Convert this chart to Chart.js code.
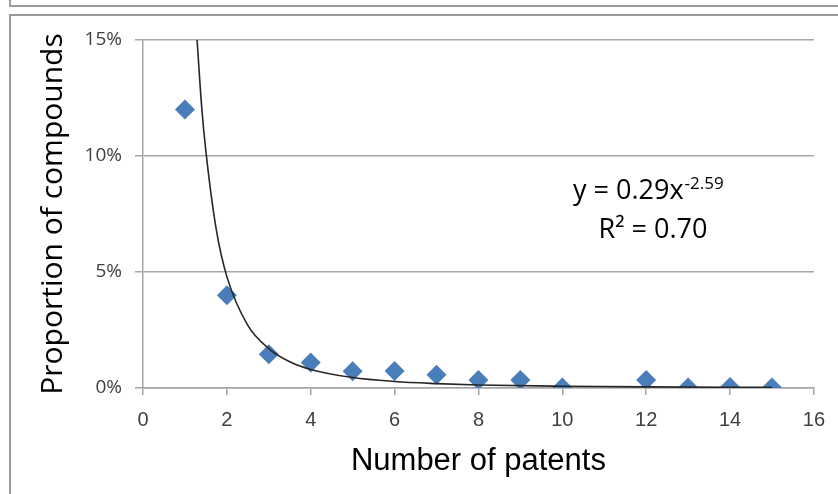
<!DOCTYPE html>
<html>
<head>
<meta charset="utf-8">
<title>Proportion of compounds by number of patents</title>
<script src="https://cdn.jsdelivr.net/npm/chart.js@4.4.1/dist/chart.umd.min.js"></script>
<style>
  html, body { margin: 0; padding: 0; background: #fff; }
  #chart { display: block; }
</style>
</head>
<body>
<canvas id="chart" width="838" height="494"></canvas>
<script>
"use strict";

// number of patents per compound (x) and share of compounds in % (y)
const patents = [1, 2, 3, 4, 5, 6, 7, 8, 9, 10, 12, 13, 14, 15];
const proportion = [12.0, 4.0, 1.45, 1.1, 0.72, 0.73, 0.57, 0.34, 0.34, 0.02, 0.34, 0.02, 0.04, 0.02];

// power trendline (y = 0.29x^-2.59)
const trendX = [1.29, 1.4, 1.5, 1.75, 2, 2.5, 3, 3.5, 4, 5, 6, 7, 8, 10, 12, 15];
const trendY = [15.0, 12.1, 10.2, 6.8, 4.8, 2.7, 1.7, 1.13, 0.8, 0.45, 0.28, 0.19, 0.13, 0.075, 0.047, 0.026];

const equationText = "y = 0.29x";
const exponentText = "-2.59";
const rSquaredText = "R\u00B2 = 0.70";

const xTitle = "Number of patents";
const yTitle = "Proportion of compounds";

const gridGray = "#a6a6a6";

/**
 * Gray panel borders behind the chart.
 */
const framePlugin = {
  id: "frame",
  beforeDraw(chart) {
    const ctx = chart.ctx;
    ctx.save();
    ctx.fillStyle = "#fff";
    ctx.fillRect(0, 0, chart.width, chart.height);
    ctx.strokeStyle = "#9a9a9a";
    ctx.lineWidth = 2;
    ctx.beginPath();
    ctx.moveTo(10, 0);
    ctx.lineTo(10, 6);
    ctx.lineTo(chart.width, 6);
    ctx.moveTo(chart.width, 15);
    ctx.lineTo(10, 15);
    ctx.lineTo(10, chart.height);
    ctx.stroke();
    ctx.restore();
  }
};

/**
 * Trendline equation and R² label.
 */
const equationPlugin = {
  id: "equation",
  afterDraw(chart) {
    const ctx = chart.ctx;
    ctx.save();
    ctx.fillStyle = "#000";
    ctx.textBaseline = "alphabetic";
    ctx.textAlign = "left";
    ctx.font = "27px 'Open Sans'";
    ctx.fillText(equationText, 573, 199);
    const w = ctx.measureText(equationText).width;
    ctx.font = "17px 'Open Sans'";
    ctx.fillText(exponentText, 573 + w + 1, 189);
    ctx.font = "27px 'Open Sans'";
    ctx.textAlign = "center";
    ctx.fillText(rSquaredText, 653, 238);
    ctx.restore();
  }
};

function createChart() {
  const ctx = document.getElementById("chart");

  new Chart(ctx, {
    type: "scatter",
    data: {
      datasets: [{
        label: "Compounds",
        data: patents.map((p, i) => ({ x: p, y: proportion[i] })),
        pointStyle: "rectRot",
        pointRadius: 10,
        pointBackgroundColor: "#4a7ebb",
        pointBorderColor: "#4a7ebb",
        pointBorderWidth: 0,
        order: 2
      }, {
        label: "Power trend",
        data: trendX.map((t, i) => ({ x: t, y: trendY[i] })),
        showLine: true,
        pointRadius: 0,
        borderColor: "#262626",
        borderWidth: 1.6,
        cubicInterpolationMode: "monotone",
        order: 1
      }]
    },
    options: {
      responsive: false,
      animation: false,
      layout: { padding: { top: 40, right: 23, left: 0, bottom: 0 } },
      plugins: {
        legend: { display: false },
        tooltip: { enabled: false }
      },
      scales: {
        x: {
          type: "linear",
          min: 0,
          max: 16,
          afterFit: s => { s.height = 106; },
          ticks: {
            stepSize: 2,
            padding: 13,
            color: "#404040",
            font: { family: "'Liberation Sans Narrow', 'Liberation Sans'", size: 20 }
          },
          grid: { drawOnChartArea: false, tickLength: 7, color: gridGray, lineWidth: 1.5 },
          border: { color: gridGray, width: 1.5 },
          title: {
            display: true,
            text: xTitle,
            color: "#000",
            padding: { top: 0, bottom: 14 },
            font: { family: "'Liberation Sans'", size: 31 }
          }
        },
        y: {
          min: 0,
          max: 15,
          afterFit: s => { s.width = 143; },
          ticks: {
            stepSize: 5,
            padding: 13,
            color: "#404040",
            font: { family: "'Open Sans'", size: 19 },
            callback: v => v + "%"
          },
          grid: { tickLength: 8, color: gridGray, lineWidth: 1.5 },
          border: { color: gridGray, width: 1.5 },
          title: {
            display: true,
            text: yTitle,
            color: "#000",
            padding: { top: 35, bottom: 0 },
            font: { family: "'Open Sans'", size: 30 }
          }
        }
      }
    },
    plugins: [framePlugin, equationPlugin]
  });
}

createChart();
</script>
</body>
</html>
